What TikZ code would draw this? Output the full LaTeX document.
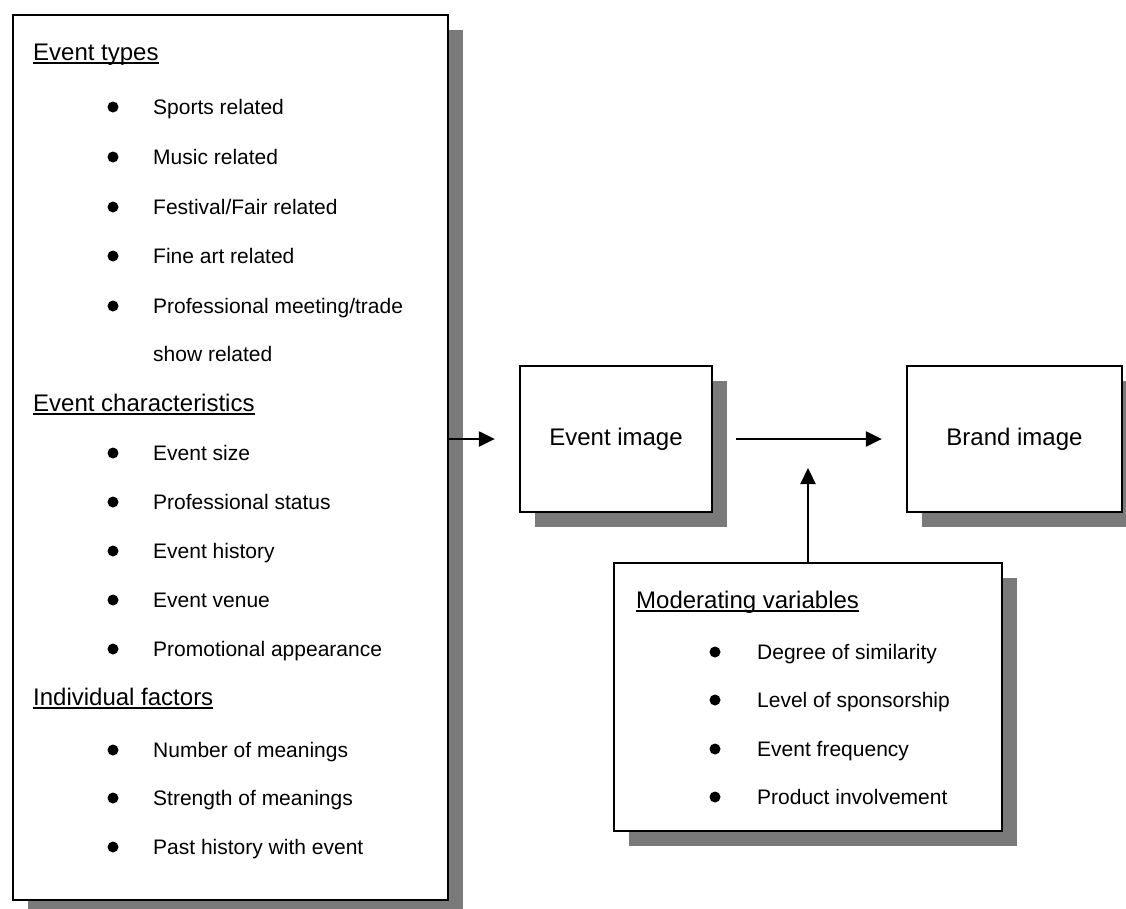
\documentclass[tikz,border=0pt]{standalone}
\usepackage{fontspec}
\setmainfont{Liberation Sans}
\usetikzlibrary{arrows.meta,shadows}
\begin{document}
\begin{tikzpicture}[x=1pt,y=-1pt,
  framebox/.style={draw=black, line width=2.3pt, fill=white, rectangle, inner sep=0pt,
    drop shadow={shadow xshift=15pt, shadow yshift=-15pt, fill=black!52, opacity=1}},
  evitem/.style={anchor=base west, inner sep=0pt, font=\fontsize{21}{25}\selectfont},
  evhead/.style={anchor=base west, inner sep=0pt, font=\fontsize{24}{28}\selectfont},
  boxtext/.style={font=\fontsize{24}{28}\selectfont},
  bulletdot/.style={circle, fill=black, inner sep=0pt, minimum size=11pt},
  flowarrow/.style={line width=2.3pt, -{Triangle[length=16pt,width=15pt]}},
  uline/.style={line width=1.4pt}]
\useasboundingbox (0,0) rectangle (1126,908);

% boxes
\node[framebox, minimum width=435pt, minimum height=885pt] (factors) at (230.5,457.5) {};
\node[framebox, boxtext, minimum width=192pt, minimum height=146pt] (evimg) at (616,439) {Event image};
\node[framebox, boxtext, minimum width=215pt, minimum height=146pt] (brimg) at (1014.5,439) {Brand image};
\node[framebox, minimum width=388pt, minimum height=268pt] (moder) at (808,697) {};

% headings
\node[evhead] (h1) at (33,60.5) {Event types};
\node[evhead] (h2) at (33,411.5) {Event characteristics};
\node[evhead] (h3) at (33,705.5) {Individual factors};
\node[evhead] (h4) at (636,608.5) {Moderating variables};
\foreach \h in {h1,h2,h3,h4}
  \draw[uline] ([yshift=-2.5pt]\h.base west) -- ([yshift=-2.5pt]\h.base east);

% bulleted items of the factor box
\foreach \yy/\tx [count=\i] in {107/Sports related, 157/Music related,
    207/{Festival/Fair related}, 256/Fine art related,
    306/{Professional meeting/trade}, 453/Event size, 502/Professional status,
    551/Event history, 600/Event venue, 649/Promotional appearance,
    750/Number of meanings, 798/Strength of meanings, 847/Past history with event} {
  \node[bulletdot] (fb\i) at (113,\yy) {};
  \node[evitem] (ft\i) at (153,\yy+7.5) {\tx};
}
\node[evitem] (ftcont) at (153,361.5) {show related};

% bulleted items of the moderating box
\foreach \yy/\tx [count=\i] in {652/Degree of similarity, 700/Level of sponsorship,
    749/Event frequency, 797/Product involvement} {
  \node[bulletdot] (mb\i) at (715,\yy) {};
  \node[evitem] (mt\i) at (757,\yy+7.5) {\tx};
}

% connectors
\draw[flowarrow] (factors.east |- evimg.west) -- ([xshift=-24pt]evimg.west);
\draw[flowarrow] ([xshift=23pt]evimg.east) -- ([xshift=-24pt]brimg.west);
\coordinate (modtip) at (808,468);
\draw[flowarrow] (moder.north) -- (modtip);
\end{tikzpicture}
\end{document}
